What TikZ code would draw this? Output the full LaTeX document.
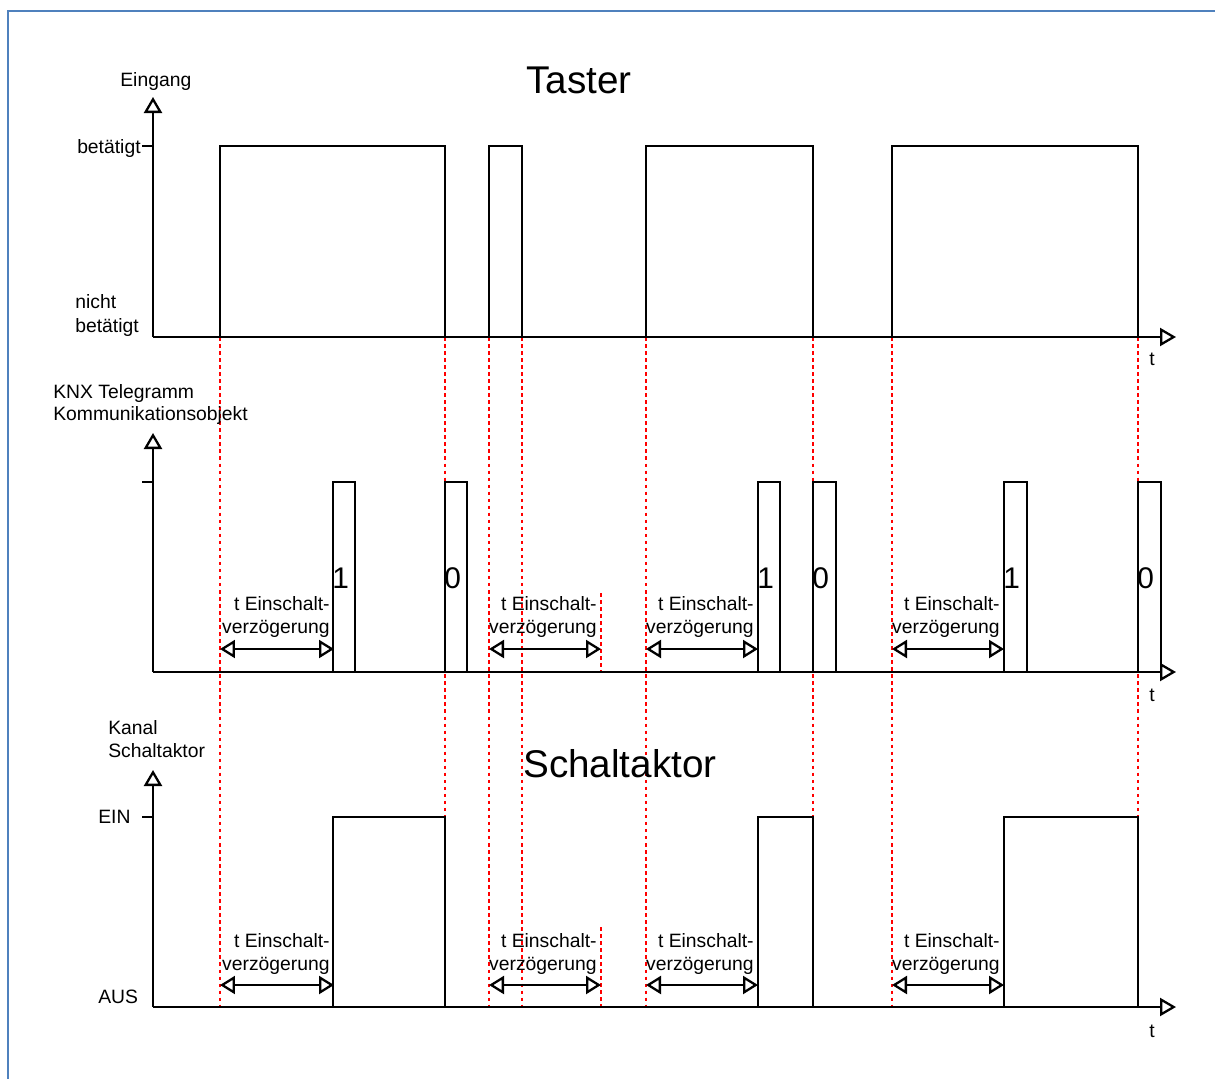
\documentclass[tikz,border=0pt]{standalone}
\usepackage{fontspec}
\setmainfont{Liberation Sans}
\usetikzlibrary{arrows.meta}
\definecolor{framecol}{RGB}{79,129,189}
\begin{document}
\begin{tikzpicture}[x=0.02cm,y=-0.02cm,
  sig/.style={line width=1.3pt, black, line join=miter},
  axis/.style={line width=1.3pt, -{Triangle[open,length=0.32cm,width=0.36cm]}},
  span/.style={line width=1.3pt, {Triangle[open,length=0.3cm,width=0.36cm]}-{Triangle[open,length=0.3cm,width=0.36cm]}},
  marker/.style={red, line width=1.4pt, dash pattern=on 2pt off 2pt},
  lab/.style={font=\fontsize{11}{12.5}\selectfont, inner sep=0pt},
  title/.style={font=\fontsize{22}{26}\selectfont, inner sep=0pt, anchor=base},
  digit/.style={font=\fontsize{17}{20}\selectfont, inner sep=0pt, anchor=base west},
]
\useasboundingbox (0,0) rectangle (1215,1079);

% frame
\coordinate (fr1) at (8,1090);
\coordinate (fr2) at (8,11);
\coordinate (fr3) at (1225,11);
\draw[framecol, line width=1.2pt] (fr1) -- (fr2) -- (fr3);

% red markers
\foreach \x in {220,445,489,522,646,813,892,1138}
  \draw[marker] (\x,337) -- (\x,1007);
\coordinate (m2a) at (601,593); \coordinate (m2b) at (601,672);
\coordinate (m3a) at (601,927); \coordinate (m3b) at (601,1007);
\draw[marker] (m2a) -- (m2b);
\draw[marker] (m3a) -- (m3b);

% ---------- Panel 1: Taster ----------
\coordinate (o1) at (153,337);
\coordinate (yt1) at (153,97);
\coordinate (xt1) at (1176,337);
\draw[axis] (o1) -- (yt1);
\draw[axis] (o1) -- (xt1);
\coordinate (tk1a) at (142,146); \coordinate (tk1b) at (153,146);
\draw[sig] (tk1a) -- (tk1b);
\foreach \a/\b in {220/445,489/522,646/813,892/1138}
  \draw[sig] (\a,337) |- (\b,146) -- (\b,337);

\node[title] (taster) at (579,93) {Taster};
\node[lab, anchor=base west] (eingang) at (120,86) {Eingang};
\node[lab, anchor=base east] (bet1) at (141,153) {betätigt};
\node[lab, anchor=base west] (nicht) at (75,308) {nicht};
\node[lab, anchor=base west] (bet2) at (75,332) {betätigt};
\node[lab, anchor=base west] (t1) at (1149,365) {t};

% ---------- Panel 2: KNX ----------
\coordinate (o2) at (153,672);
\coordinate (yt2) at (153,433);
\coordinate (xt2) at (1176,672);
\draw[axis] (o2) -- (yt2);
\draw[axis] (o2) -- (xt2);
\coordinate (tk2a) at (142,482); \coordinate (tk2b) at (153,482);
\draw[sig] (tk2a) -- (tk2b);
\foreach \a/\b/\v in {333/355/1,445/467/0,758/780/1,813/836/0,1004/1027/1,1138/1161/0}{
  \draw[sig] (\a,672) |- (\b,482) -- (\b,672);
  \node[digit] (d\a) at (\a-1,588) {\v};
}
\node[lab, anchor=base west] (knx) at (53,398) {KNX Telegramm};
\node[lab, anchor=base west] (kom) at (53,420) {Kommunikationsobjekt};
\node[lab, anchor=base west] (t2) at (1149,701) {t};

\foreach \a/\b in {220/334,489/601,646/758,892/1004}{
  \draw[span] (\a,649) -- (\b,649);
  \node[lab, anchor=base east] (ea\a) at (\b-4,610) {t Einschalt-};
  \node[lab, anchor=base east] (eb\a) at (\b-4,633) {verzögerung};
}

% ---------- Panel 3: Schaltaktor ----------
\coordinate (o3) at (153,1007);
\coordinate (yt3) at (153,770);
\coordinate (xt3) at (1176,1007);
\draw[axis] (o3) -- (yt3);
\draw[axis] (o3) -- (xt3);
\coordinate (tk3a) at (142,817); \coordinate (tk3b) at (153,817);
\draw[sig] (tk3a) -- (tk3b);
\foreach \a/\b in {333/445,758/813,1004/1138}
  \draw[sig] (\a,1007) |- (\b,817) -- (\b,1007);

\node[title] (schalt) at (620,777) {Schaltaktor};
\node[lab, anchor=base west] (kanal) at (108,734) {Kanal};
\node[lab, anchor=base west] (sakt) at (108,757) {Schaltaktor};
\node[lab, anchor=base west] (ein) at (98,823) {EIN};
\node[lab, anchor=base west] (aus) at (98,1003) {AUS};
\node[lab, anchor=base west] (t3) at (1149,1037) {t};

\foreach \a/\b in {220/334,489/601,646/758,892/1004}{
  \draw[span] (\a,985) -- (\b,985);
  \node[lab, anchor=base east] (fa\a) at (\b-4,947) {t Einschalt-};
  \node[lab, anchor=base east] (fb\a) at (\b-4,970) {verzögerung};
}
\end{tikzpicture}
\end{document}
